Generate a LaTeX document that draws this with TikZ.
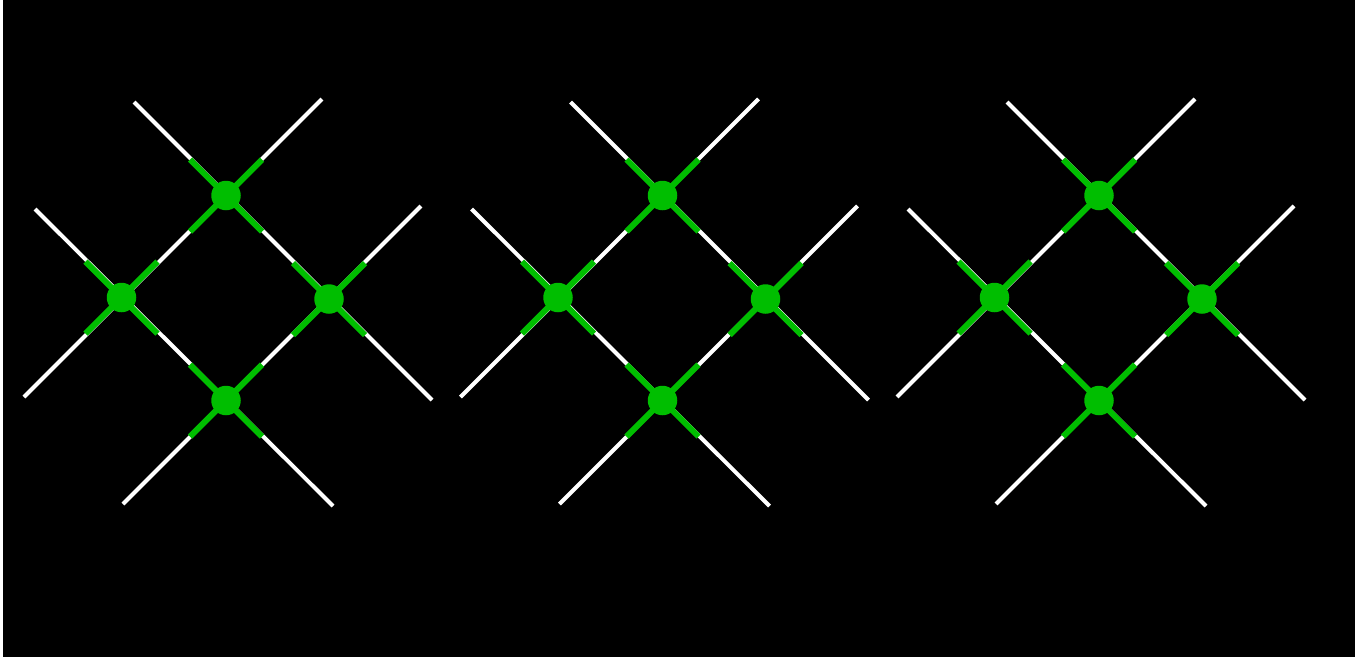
\documentclass[tikz,border=0pt]{standalone}
\usetikzlibrary{calc}
\definecolor{dotgreen}{RGB}{0,190,0}
\begin{document}
\begin{tikzpicture}[x=1pt,y=-1pt,
  wline/.style={white,line width=4pt},
  gline/.style={dotgreen,line width=6pt},
  gdot/.style={circle,fill=dotgreen,draw=none,minimum size=29.5pt,inner sep=0pt}]
\useasboundingbox (0,0) rectangle (1359,657);
\fill[white] (0,0) rectangle (1359,657);
\fill[black] (3,0) rectangle (1355,657);
\foreach \o/\p in {0/a,436.5/b,873/c}{
 \begin{scope}[xshift=\o pt]
  % free ends of the four white lines
  \coordinate (\p1s) at (134,102); \coordinate (\p1e) at (432,400);
  \coordinate (\p2s) at (322,99);  \coordinate (\p2e) at (24,397);
  \coordinate (\p3s) at (35,209);  \coordinate (\p3e) at (333,506);
  \coordinate (\p4s) at (421,206); \coordinate (\p4e) at (123,504);
  % dot positions
  \coordinate (\p Tc) at (226,195.5);
  \coordinate (\p Lc) at (121.5,297.5);
  \coordinate (\p Rc) at (329,299);
  \coordinate (\p Bc) at (226,400.5);
  \draw[wline] (\p1s) -- (\p1e);
  \draw[wline] (\p2s) -- (\p2e);
  \draw[wline] (\p3s) -- (\p3e);
  \draw[wline] (\p4s) -- (\p4e);
  \foreach \d in {T,L,R,B}{
    \draw[gline] ($(\p\d c)+(-36,-36)$) -- ($(\p\d c)+(36,36)$);
    \draw[gline] ($(\p\d c)+(36,-36)$) -- ($(\p\d c)+(-36,36)$);
  }
  \node[gdot] (\p T) at (\p Tc) {};
  \node[gdot] (\p L) at (\p Lc) {};
  \node[gdot] (\p R) at (\p Rc) {};
  \node[gdot] (\p B) at (\p Bc) {};
 \end{scope}}
\end{tikzpicture}
\end{document}
